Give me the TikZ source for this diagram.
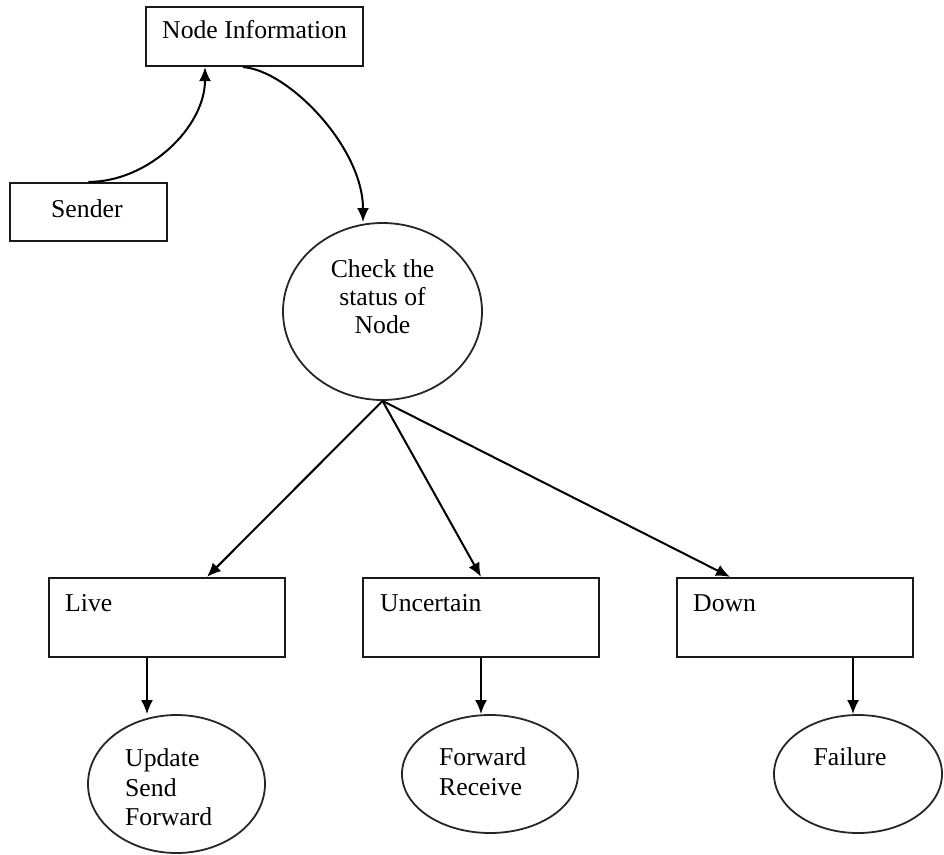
\documentclass[tikz,border=0pt]{standalone}
\usepackage{fontspec}
\setmainfont{Liberation Serif}
\usetikzlibrary{arrows.meta,calc,shapes.geometric}
\begin{document}
\begin{tikzpicture}[x=1pt,y=-1pt,
  font=\fontsize{25.7}{29.5}\selectfont,
  box/.style={draw=black!90, line width=2.2pt, rectangle, inner sep=0pt},
  oval/.style={draw=black!85, line width=1.8pt, ellipse, inner sep=0pt},
  txt/.style={inner sep=0pt, text=black},
  arr/.style={draw=black, line width=2pt, -{Latex[length=14pt,width=12pt]}}]
\useasboundingbox (0,0) rectangle (944,854);
% boxes
\node[box, minimum width=217pt, minimum height=59pt] (ni) at (254.5,36.5) {};
\node[box, minimum width=157pt, minimum height=58pt] (sender) at (88.5,212) {};
\node[box, minimum width=236pt, minimum height=79pt] (live) at (167,617.5) {};
\node[box, minimum width=236pt, minimum height=79pt] (unc) at (481,617.5) {};
\node[box, minimum width=236pt, minimum height=79pt] (down) at (795,617.5) {};
% ellipses
\node[oval, minimum width=199pt, minimum height=177pt] (chk) at (382.5,311.5) {};
\node[oval, minimum width=177pt, minimum height=138pt] (upd) at (176.5,784) {};
\node[oval, minimum width=176pt, minimum height=118pt] (fwd) at (490,774) {};
\node[oval, minimum width=168pt, minimum height=118pt] (fail) at (858,774) {};
% texts
\node[txt, anchor=base west] (tni) at (162,38) {Node Information};
\node[txt, anchor=base west] (tsender) at (51,217) {Sender};
\node[txt, anchor=north, align=center, font=\fontsize{25.7}{28}\selectfont] (tchk) at (382.5,259.5) {Check the\\status of\\Node};
\node[txt, anchor=base west] (tlive) at (65,611) {Live};
\node[txt, anchor=base west] (tunc) at (380,611) {Uncertain};
\node[txt, anchor=base west] (tdown) at (693,611) {Down};
\node[txt, anchor=north west, align=left] (tupd) at (125,748.5) {Update\\Send\\Forward};
\node[txt, anchor=north west, align=left] (tfwd) at (439,747.5) {Forward\\Receive};
\node[txt, anchor=base] (tfail) at (850,765) {Failure};
% connector end points
\coordinate (niin) at ($(ni.south)+(-49.5,0)$);
\coordinate (niout) at ($(ni.south)+(-11.5,0)$);
\coordinate (chkin) at (363,222);
\coordinate (livein) at ($(live.north)+(40,0)$);
\coordinate (downin) at ($(down.north)+(-65,0)$);
\coordinate (liveout) at ($(live.south)+(-20,0)$);
\coordinate (downout) at ($(down.south)+(58,0)$);
% connectors
\draw[arr] (sender.north) .. controls +(60,0) and +(0,60) .. (niin);
\draw[arr] (niout) .. controls +(45,3) and +(0,-75) .. (chkin);
\draw[arr] (chk.south) -- (livein);
\draw[arr] (chk.south) -- (unc.north);
\draw[arr] (chk.south) -- (downin);
\draw[arr] (liveout) -- (liveout |- upd.north);
\draw[arr] (unc.south) -- (unc.south |- fwd.north);
\draw[arr] (downout) -- (downout |- fail.north);
\end{tikzpicture}
\end{document}
